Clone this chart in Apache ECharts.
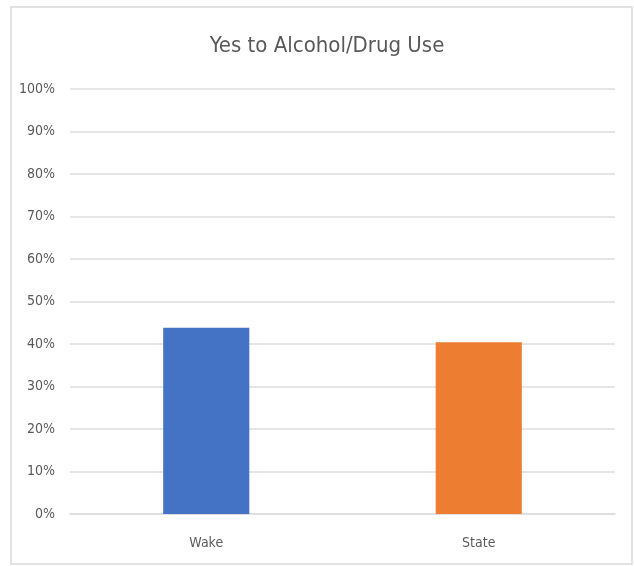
<!DOCTYPE html>
<html><head><meta charset="utf-8">
<script src="https://cdn.jsdelivr.net/npm/echarts@6/dist/echarts.min.js"></script>
<style>html,body{margin:0;padding:0;background:#fff}#c{width:634px;height:566px}</style>
</head><body><div id="c"></div>
<script>
const titleText = "Yes to Alcohol/Drug Use";
const categories = ["Wake", "State"];
const values = [43.8, 40.4];
const barColors = ["#4472C4", "#ED7D31"];
const yTicks = [0, 10, 20, 30, 40, 50, 60, 70, 80, 90, 100];

const chart = echarts.init(document.getElementById('c'));
const font = '"Liberation Sans Narrow", "DejaVu Sans Condensed", sans-serif';
chart.setOption({
  backgroundColor: '#fff',
  animation: false,
  graphic: [{type:'rect', shape:{x:11,y:7,width:621,height:557}, style:{fill:'none', stroke:'#d9d9d9', lineWidth:1.5}, silent:true}],
  title: {text: titleText, left: 322, textAlign: 'center', top: 30, textStyle:{fontFamily: font, fontSize: 22, fontWeight:'normal', color:'#595959'}},
  grid: {left: 70, right: 19, top: 89, bottom: 52},
  xAxis: {type:'category', data: categories, axisLine:{lineStyle:{color:'#dcdcdc', width:1.5}}, axisTick:{show:false},
    axisLabel:{fontFamily: font, fontSize: 14, color:'#595959', margin: 22}},
  yAxis: {type:'value', min: yTicks[0], max: yTicks[yTicks.length-1], interval: 10, axisLine:{show:false}, axisTick:{show:false},
    splitLine:{lineStyle:{color:'#dcdcdc', width:1.5}},
    axisLabel:{fontFamily: font, fontSize: 14, color:'#595959', margin: 15, formatter: v => v + '%'}},
  series: [{type:'bar', barWidth: '31.6%', data: values.map((v,i)=>({value:v, itemStyle:{color:barColors[i]}}))}]
});
</script></body></html>
